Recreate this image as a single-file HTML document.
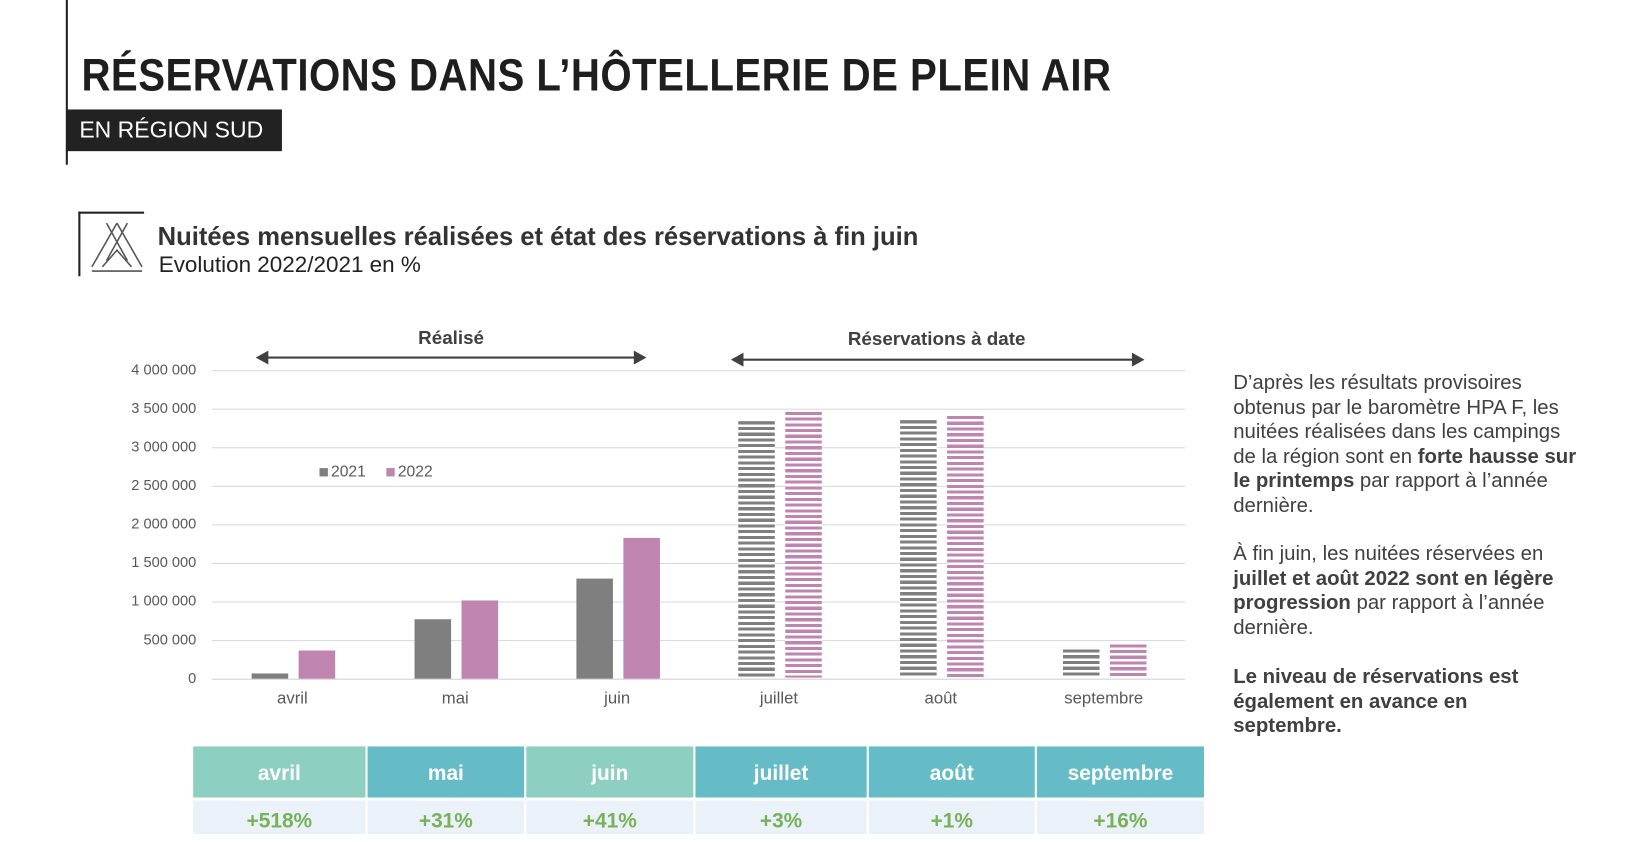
<!DOCTYPE html>
<html><head><meta charset="utf-8"><style>
html,body{margin:0;padding:0;background:#fff;width:1629px;height:834px;overflow:hidden}
#w{position:absolute;left:0;top:0;width:1560px;height:800px;transform:scale(1.0442,1.0425);transform-origin:0 0;font-family:"Liberation Sans",sans-serif;color:#333}
.a{position:absolute;white-space:nowrap}
.yl{position:absolute;right:1372px;font-size:14px;color:#595959;width:120px;text-align:right}
.g{position:absolute;left:203px;width:932px;height:1px;background:#d9d9d9}
.b{position:absolute;width:35px}
.s1{background:#7f7f7f}.s2{background:#c084b0}
.h1{background:repeating-linear-gradient(to bottom,#7f7f7f 0 3px,#fff 3px 5.5px)}
.h2{background:repeating-linear-gradient(to bottom,#c084b0 0 3px,#fff 3px 5.5px)}
.m{position:absolute;top:662px;font-size:16px;color:#595959;width:120px;text-align:center}
.th{position:absolute;top:716px;height:49px;color:#fff;font-weight:bold;font-size:20px;text-align:center;line-height:52px}
.td{position:absolute;top:768px;height:32px;background:#eaf1f8;color:#78b158;font-weight:bold;font-size:20px;text-align:center;line-height:40px}
.rt{position:absolute;left:1181px;font-size:19.5px;line-height:23.5px;color:#404040;width:348px;white-space:nowrap}
</style></head><body><div id="w">
<div class="a" style="left:63px;top:0;width:2px;height:158px;background:#222"></div>
<div class="a" style="left:78px;top:48px;font-size:44px;font-weight:bold;color:#1e1e1e;transform:scaleX(0.875);transform-origin:0 0;letter-spacing:0.5px">RÉSERVATIONS DANS L’HÔTELLERIE DE PLEIN AIR</div>
<div class="a" style="left:64px;top:105px;width:206px;height:40px;background:#222"></div>
<div class="a" style="left:76px;top:112px;font-size:22px;color:#fff">EN RÉGION SUD</div>
<div class="a" style="left:75px;top:203px;width:2px;height:62px;background:#222"></div>
<div class="a" style="left:75px;top:203px;width:63px;height:2px;background:#222"></div>
<svg class="a" style="left:84px;top:212px" width="56" height="52"><g stroke="#555" stroke-width="1.5" fill="none"><path d="M18 2 L38 38 M38 2 L18 38 M4 44 L28 2 M52 44 L28 2 M4 48 H52 M14 44 L28 28 L42 44"/></g></svg>
<div class="a" style="left:151px;top:214px;font-size:24.5px;font-weight:bold;color:#333">Nuitées mensuelles réalisées et état des réservations à fin juin</div>
<div class="a" style="left:152px;top:242px;font-size:21.5px;color:#222">Evolution 2022/2021 en %</div>
<div class="a" style="left:372px;top:314px;font-size:18px;font-weight:bold;color:#404040;width:120px;text-align:center">Réalisé</div>
<div class="a" style="left:757px;top:315px;font-size:18px;font-weight:bold;color:#404040;width:280px;text-align:center">Réservations à date</div>
<svg class="a" style="left:240px;top:335px" width="870" height="20"><g stroke="#404040" stroke-width="2" fill="#404040"><line x1="10" y1="8" x2="374" y2="8"/><path d="M7 8 L16 3 L16 13Z M377 8 L368 3 L368 13Z"/><line x1="465" y1="10" x2="851" y2="10"/><path d="M462 10 L471 5 L471 15Z M854 10 L845 5 L845 15Z"/></g></svg>
<div class="g" style="top:355px"></div><div class="g" style="top:392px"></div><div class="g" style="top:429px"></div><div class="g" style="top:466px"></div><div class="g" style="top:503px"></div><div class="g" style="top:540px"></div><div class="g" style="top:577px"></div><div class="g" style="top:614px"></div><div class="g" style="top:651px;background:#d0d0d0"></div>
<div class="yl" style="top:346px">4 000 000</div><div class="yl" style="top:383px">3 500 000</div><div class="yl" style="top:420px">3 000 000</div><div class="yl" style="top:457px">2 500 000</div><div class="yl" style="top:494px">2 000 000</div><div class="yl" style="top:531px">1 500 000</div><div class="yl" style="top:568px">1 000 000</div><div class="yl" style="top:605px">500 000</div><div class="yl" style="top:642px">0</div>
<div class="b s1" style="left:241px;top:646px;height:5px"></div><div class="b s2" style="left:286px;top:624px;height:27px"></div>
<div class="b s1" style="left:397px;top:594px;height:57px"></div><div class="b s2" style="left:442px;top:576px;height:75px"></div>
<div class="b s1" style="left:552px;top:555px;height:96px"></div><div class="b s2" style="left:597px;top:516px;height:135px"></div>
<div class="b h1" style="left:707px;top:404px;height:246px"></div><div class="b h2" style="left:752px;top:395px;height:255px"></div>
<div class="b h1" style="left:862px;top:403px;height:247px"></div><div class="b h2" style="left:907px;top:399px;height:251px"></div>
<div class="b h1" style="left:1018px;top:623px;height:27px"></div><div class="b h2" style="left:1063px;top:618px;height:32px"></div>
<div class="a" style="left:306px;top:449px;width:8px;height:8px;background:#7f7f7f"></div><div class="a" style="left:317px;top:444px;font-size:15px;color:#595959">2021</div>
<div class="a" style="left:370px;top:449px;width:8px;height:8px;background:#c084b0"></div><div class="a" style="left:381px;top:444px;font-size:15px;color:#595959">2022</div>
<div class="m" style="left:220px">avril</div><div class="m" style="left:376px">mai</div><div class="m" style="left:531px">juin</div><div class="m" style="left:686px">juillet</div><div class="m" style="left:841px">août</div><div class="m" style="left:997px">septembre</div>
<div class="th" style="left:185px;width:165px;background:#8dd0c1">avril</div>
<div class="th" style="left:352px;width:150px;background:#66bcc6">mai</div>
<div class="th" style="left:504px;width:160px;background:#8dd0c1">juin</div>
<div class="th" style="left:666px;width:164px;background:#66bcc6">juillet</div>
<div class="th" style="left:832px;width:159px;background:#66bcc6">août</div>
<div class="th" style="left:993px;width:160px;background:#66bcc6">septembre</div>
<div class="td" style="left:185px;width:165px">+518%</div>
<div class="td" style="left:352px;width:150px">+31%</div>
<div class="td" style="left:504px;width:160px">+41%</div>
<div class="td" style="left:666px;width:164px">+3%</div>
<div class="td" style="left:832px;width:159px">+1%</div>
<div class="td" style="left:993px;width:160px">+16%</div>
<div class="rt" style="top:356px">D’après les résultats provisoires<br>obtenus par le baromètre HPA F, les<br>nuitées réalisées dans les campings<br>de la région sont en <b>forte hausse sur</b><br><b>le printemps</b> par rapport à l’année<br>dernière.</div>
<div class="rt" style="top:520px">À fin juin, les nuitées réservées en<br><b>juillet et août 2022 sont en légère</b><br><b>progression</b> par rapport à l’année<br>dernière.</div>
<div class="rt" style="top:638px"><b>Le niveau de réservations est</b><br><b>également en avance en</b><br><b>septembre.</b></div>
</div></body></html>
